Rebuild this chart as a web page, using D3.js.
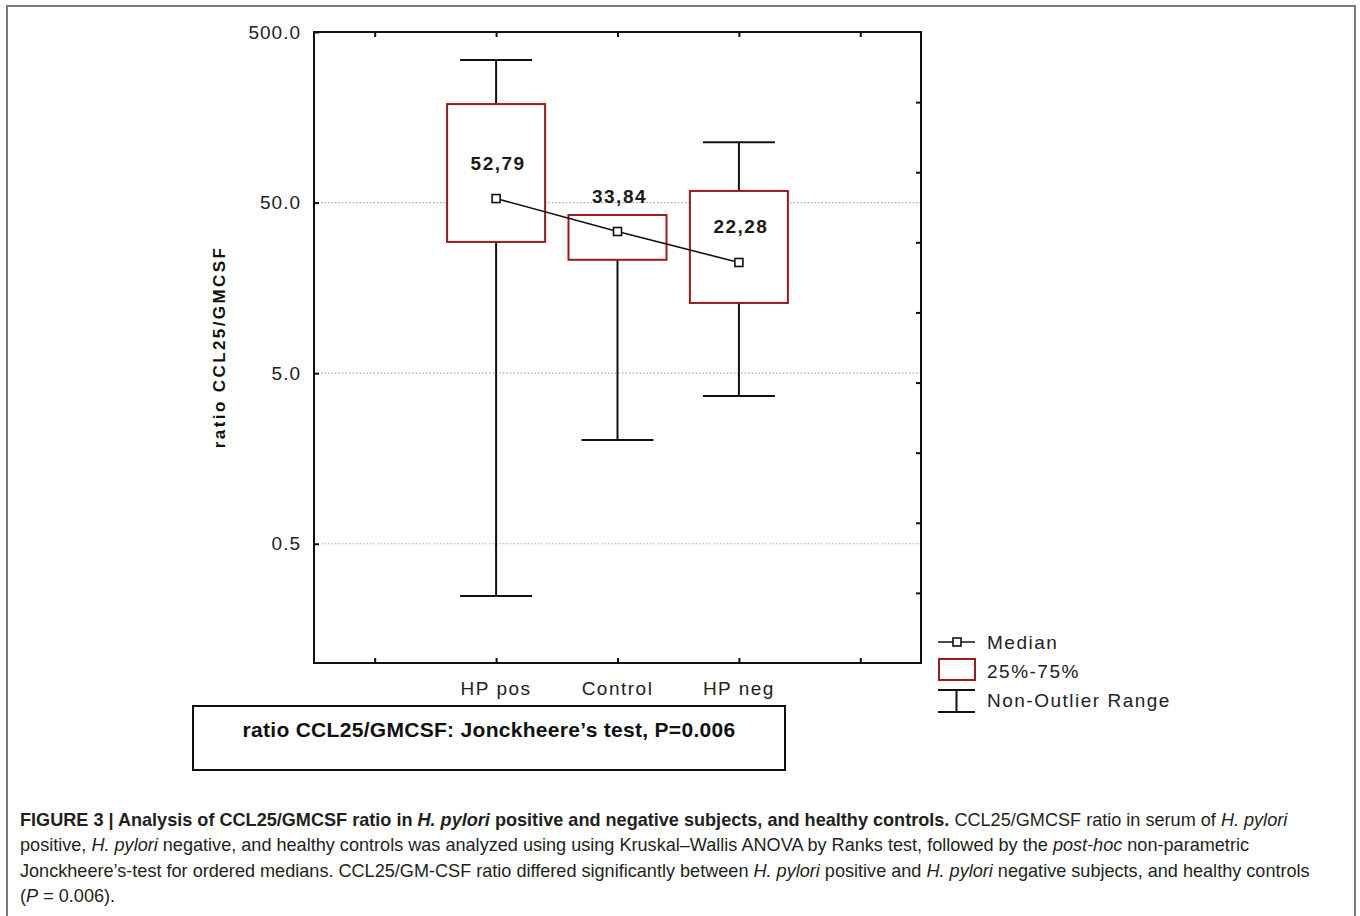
<!DOCTYPE html>
<html>
<head>
<meta charset="utf-8">
<script src="https://cdn.jsdelivr.net/npm/d3@7"></script>
<style>
body{margin:0;background:#fff}
svg text{font-family:"Liberation Sans",Arial,sans-serif}
</style>
</head>
<body>
<div id="container"></div>
<script>
// values
var groups = ["HP pos","Control","HP neg"]
var groupSlot = [1.5,2.5,3.5]
var mins = [0.247,2.03,3.67]
var q1 = [29.4,23.1,12.9]
var medians = [52.79,33.84,22.28]
var q3 = [189,42.3,58.5]
var maxs = [343,42.3,113]
var medianLabels = ["52,79","33,84","22,28"]
var yTicks = [0.5,5,50,500]
var gridValues = [0.5,5,50]
var xTicks = [0.5,1.5,2.5,3.5,4.5]
var rightTicks = [1,2,3,4,5,6,7,8]
var legendItems = ["Median","25%-75%","Non-Outlier Range"]
var testLabel = "ratio CCL25/GMCSF: Jonckheere\u2019s test, P=0.006"

var W = 1360, H = 916
var pLeft = 314, pRight = 921, pTop = 32, pBottom = 663
var boxColor = "#9a1c1c"

var svg = d3.select("#container").append("svg").attr("width",W).attr("height",H)

// outer figure frame (no bottom edge visible)
svg.append("path").attr("d","M7,"+(H+5)+"V6H1355V"+(H+5))
    .attr("fill","none").attr("stroke","#7a7a7a").attr("stroke-width",2)

var yScale = d3.scaleLog().domain([0.1,500]).range([pBottom,pTop])
var xScale = d3.scaleLinear().domain([0,5]).range([pLeft,pRight])
var rScale = d3.scaleLinear().domain([0,9]).range([pBottom,pTop])

var g = svg.append("g")

// gridlines
g.selectAll(".grid").data(gridValues).enter().append("line")
    .attr("x1",pLeft).attr("x2",pRight)
    .attr("y1",function(d){return yScale(d)}).attr("y2",function(d){return yScale(d)})
    .attr("stroke","#aaa").attr("stroke-width",1.2).attr("stroke-dasharray","1.5,2")

// axes
var yAxis = d3.axisLeft(yScale).tickValues(yTicks).tickFormat(d3.format(".1f")).tickSize(-5).tickPadding(13)
var yg = g.append("g").attr("transform","translate("+pLeft+",0)").call(yAxis)
yg.selectAll("text").attr("font-size",19).attr("letter-spacing",1).attr("fill","#222")

g.append("g").attr("transform","translate("+pRight+",0)")
    .call(d3.axisRight(rScale).tickValues(rightTicks).tickSize(-5).tickFormat(""))
g.append("g").attr("transform","translate(0,"+pTop+")")
    .call(d3.axisTop(xScale).tickValues(xTicks).tickSize(-5).tickFormat(""))
g.append("g").attr("transform","translate(0,"+pBottom+")")
    .call(d3.axisBottom(xScale).tickValues(xTicks).tickSize(-5).tickFormat(""))
g.selectAll(".domain").remove()
g.selectAll(".tick line").attr("stroke","#111").attr("stroke-width",2)

// category labels
g.selectAll(".cat").data(groups).enter().append("text")
    .attr("x",function(d,i){return xScale(groupSlot[i])}).attr("y",pBottom+32)
    .attr("text-anchor","middle").attr("font-size",19).attr("letter-spacing",1.5).attr("fill","#222")
    .text(function(d){return d})

// y title
svg.append("text").attr("transform","translate(225,347) rotate(-90)")
    .attr("text-anchor","middle").attr("font-size",17).attr("letter-spacing",2.4)
    .attr("font-weight","bold").attr("fill","#111")
    .text("ratio CCL25/GMCSF")

// whiskers and boxes
var capW = 36, boxW = 49
groups.forEach(function(d,i){
    var cx = xScale(groupSlot[i])
    g.append("line").attr("x1",cx).attr("x2",cx).attr("y1",yScale(maxs[i])).attr("y2",yScale(mins[i]))
        .attr("stroke","#111").attr("stroke-width",2)
    ;[mins[i],maxs[i]].forEach(function(v){
        if(v==q3[i]) return
        g.append("line").attr("x1",cx-capW).attr("x2",cx+capW).attr("y1",yScale(v)).attr("y2",yScale(v))
            .attr("stroke","#111").attr("stroke-width",2)
    })
    g.append("rect").attr("x",cx-boxW).attr("width",boxW*2)
        .attr("y",yScale(q3[i])).attr("height",yScale(q1[i])-yScale(q3[i]))
        .attr("fill","#fff").attr("stroke",boxColor).attr("stroke-width",2)
})

// median line + markers
var line = d3.line().x(function(d,i){return xScale(groupSlot[i])}).y(function(d){return yScale(d)})
g.append("path").attr("d",line(medians)).attr("fill","none").attr("stroke","#111").attr("stroke-width",1.6)
g.selectAll(".med").data(medians).enter().append("rect")
    .attr("x",function(d,i){return xScale(groupSlot[i])-4}).attr("y",function(d){return yScale(d)-4})
    .attr("width",8).attr("height",8).attr("fill","#fff").attr("stroke","#111").attr("stroke-width",1.6)
g.selectAll(".medLab").data(medianLabels).enter().append("text")
    .attr("x",function(d,i){return xScale(groupSlot[i])+2}).attr("y",function(d,i){return yScale(medians[i])-29})
    .attr("text-anchor","middle").attr("font-size",19).attr("letter-spacing",1.5)
    .attr("font-weight","bold").attr("fill","#1a1a1a")
    .text(function(d){return d})

// plot frame
g.append("rect").attr("x",pLeft).attr("y",pTop).attr("width",pRight-pLeft).attr("height",pBottom-pTop)
    .attr("fill","none").attr("stroke","#111").attr("stroke-width",2)

// legend
var lg = svg.append("g").attr("transform","translate(938,642)")
lg.append("line").attr("x1",0).attr("x2",37).attr("y1",0).attr("y2",0).attr("stroke","#111").attr("stroke-width",1.6)
lg.append("rect").attr("x",15).attr("y",-4).attr("width",8).attr("height",8).attr("fill","#fff").attr("stroke","#111").attr("stroke-width",1.6)
lg.append("rect").attr("x",1).attr("y",17).attr("width",36).attr("height",21).attr("fill","#fff").attr("stroke",boxColor).attr("stroke-width",2)
lg.append("path").attr("d","M0,48H37M18.5,48V70M0,70H37").attr("fill","none").attr("stroke","#111").attr("stroke-width",2)
lg.selectAll(".lt").data(legendItems).enter().append("text")
    .attr("x",49).attr("y",function(d,i){return 7+i*29}).attr("font-size",19).attr("letter-spacing",1.5).attr("fill","#222")
    .text(function(d){return d})

// test box
svg.append("rect").attr("x",193).attr("y",706).attr("width",592).attr("height",64)
    .attr("fill","#fff").attr("stroke","#111").attr("stroke-width",2)
svg.append("text").attr("x",489).attr("y",737).attr("text-anchor","middle")
    .attr("font-size",21).attr("letter-spacing",0.3).attr("font-weight","bold").attr("fill","#111").text(testLabel)

// caption
var caption = [
 [["b","FIGURE 3 | Analysis of CCL25/GMCSF ratio in "],["bi","H. pylori"],["b"," positive and negative subjects, and healthy controls."],["n"," CCL25/GMCSF ratio in serum of "],["i","H. pylori"]],
 [["n","positive, "],["i","H. pylori"],["n"," negative, and healthy controls was analyzed using using Kruskal\u2013Wallis ANOVA by Ranks test, followed by the "],["i","post-hoc"],["n"," non-parametric"]],
 [["n","Jonckheere\u2019s-test for ordered medians. CCL25/GM-CSF ratio differed significantly between "],["i","H. pylori"],["n"," positive and "],["i","H. pylori"],["n"," negative subjects, and healthy controls"]],
 [["n","("],["i","P"],["n"," = 0.006)."]]
]
var cap = svg.append("g")
caption.forEach(function(row,r){
    var t = cap.append("text").attr("x",20).attr("y",826+r*25.3).attr("font-size",18.1).attr("fill","#231f20")
    row.forEach(function(s){
        t.append("tspan").text(s[1])
            .attr("font-weight",s[0].indexOf("b")>-1?"bold":"normal")
            .attr("font-style",s[0].indexOf("i")>-1?"italic":"normal")
    })
})
</script>
</body>
</html>
